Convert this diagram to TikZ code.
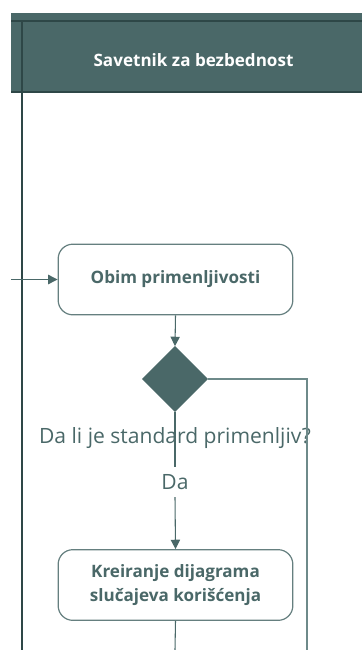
\documentclass[tikz,border=0pt]{standalone}
\usepackage{fontspec}
\setmainfont{Open Sans}
\usetikzlibrary{arrows.meta,shapes.geometric}
\definecolor{teal}{HTML}{4A6868}
\definecolor{tealdark}{HTML}{2E4747}
\definecolor{laneline}{HTML}{6E8A8A}
\tikzset{
  activity/.style={draw=teal!85, line width=0.9pt, rounded corners=11pt, fill=white,
    minimum width=176pt, minimum height=53pt, align=center, text=teal,
    font=\fontsize{12.8pt}{18pt}\selectfont\bfseries},
  decision/.style={diamond, fill=teal, draw=teal, minimum width=49pt, minimum height=49pt,
    inner sep=0pt, aspect=1},
  flow/.style={draw=teal, line width=0.8pt, -{Triangle[length=7pt,width=7pt]}},
  plain/.style={draw=laneline, line width=0.8pt},
  lbl/.style={text=teal, font=\fontsize{15.8pt}{18pt}\selectfont, inner sep=1pt}
}
\begin{document}
\begin{tikzpicture}[x=0.75pt,y=-0.75pt]
\useasboundingbox (0,0) rectangle (362,650);
% swimlane header
\fill[teal] (11,13) rectangle (362,92);
\draw[tealdark, line width=1.4pt] (11,21) -- (362,21);
\draw[tealdark, line width=0.8pt] (11,92) -- (362,92);
\node[text=white, font=\fontsize{12.8pt}{15pt}\selectfont\bfseries] (title) at (193.5,60) {Savetnik za bezbednost};
% lane border
\draw[tealdark, line width=1.4pt] (22,21) -- (22,650);
% activities
\node[activity] (scope) at (175.5,279.5) {Obim primenljivosti};
\node[decision] (dec) at (175,379) {};
\node[activity] (uc) at (175.5,585) {Kreiranje dijagrama\\slučajeva korišćenja};
% labels
\node[lbl] (q) at (175,438) {Da li je standard primenljiv?};
\node[lbl] (yes) at (175,482) {Da};
% connectors
\coordinate (in) at (11,279.5);
\coordinate (rt) at (307,379);
\coordinate (rb) at (307,650);
\coordinate (ub) at (175,650);
\draw[flow] (in) -- (scope.west);
\draw[flow] (scope.south) -- (dec.north);
\draw[draw=teal, line width=0.8pt] (dec.south) -- (175,467);
\draw[flow] (175,497) -- (uc.north);
\draw[plain] (dec.east) -- (rt) -- (rb);
\draw[draw=teal, line width=0.8pt] (uc.south) -- (ub);
\end{tikzpicture}
\end{document}
